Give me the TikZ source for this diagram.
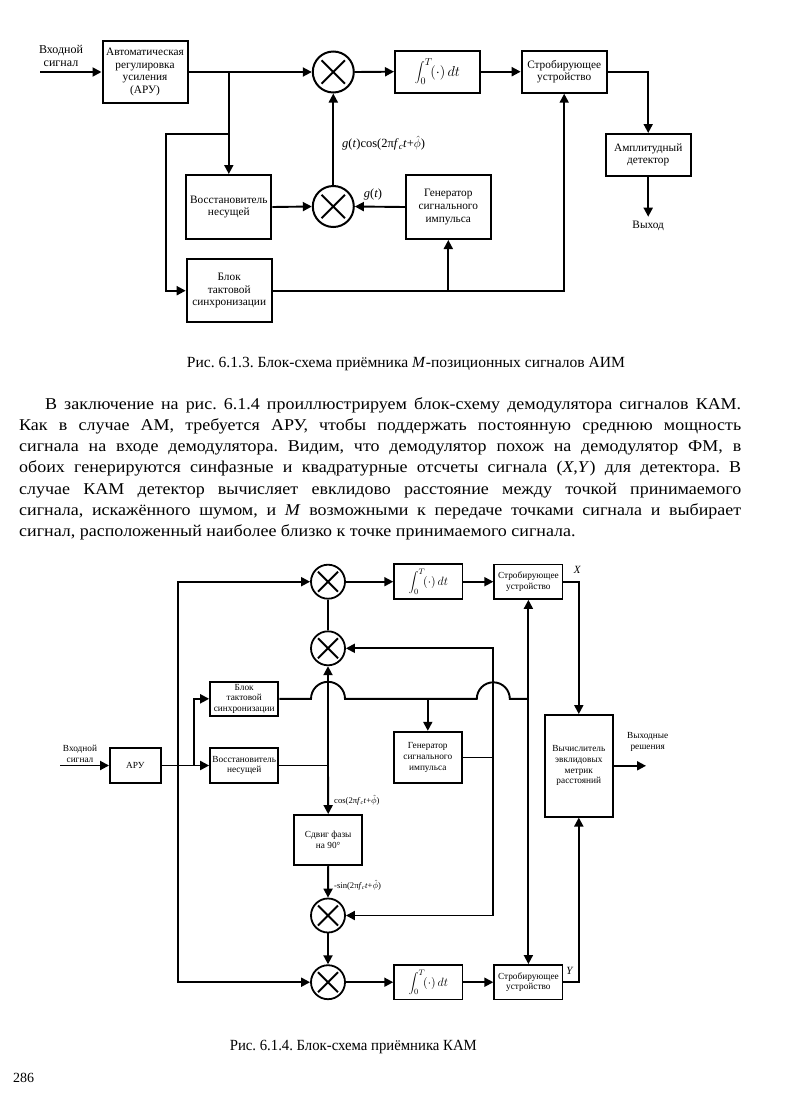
\documentclass[tikz,border=0pt]{standalone}
\usepackage{fontspec}
\setmainfont{Liberation Serif}
\newfontfamily\bodyfam[FakeStretch=1.09]{Liberation Serif}
\usepackage{graphicx}
\usetikzlibrary{arrows.meta,calc}
\frenchspacing
\newcommand{\dfa}{\fontsize{11.3}{12.6}\selectfont}
\newcommand{\dfb}{\fontsize{9.3}{10.6}\selectfont}
\newcommand{\dfc}{\fontsize{8.6}{10}\selectfont}
\newcommand{\bodyf}{\bodyfam\fontsize{16.5}{20}\selectfont}
\newcommand{\capf}{\fontsize{15.5}{18}\selectfont}
\newcommand{\phihat}{$\hat{\phi}$}
\newcommand{\intg}{$\displaystyle\int_0^T\!(\cdot)\,dt$}
\newcommand{\xmark}[2]{\draw[line width=1.9pt] ($(#1)+(-#2,-#2)$) -- ($(#1)+(#2,#2)$) ($(#1)+(-#2,#2)$) -- ($(#1)+(#2,-#2)$);}
\begin{document}
\begin{tikzpicture}[x=1pt,y=-1pt,
  wire/.style={line width=1.9pt},
  arr/.style={line width=1.9pt,-{Triangle[length=9pt,width=9pt]}},
  boxa/.style={draw,line width=2pt,minimum width=85pt,inner sep=1pt,align=center,font=\dfa},
  boxb/.style={draw,line width=1.8pt,minimum width=68.3pt,inner sep=1pt,align=center,font=\dfb},
  multa/.style={draw,circle,line width=2pt,minimum size=41pt,inner sep=0pt},
  multb/.style={draw,circle,line width=1.8pt,minimum size=34pt,inner sep=0pt},
  lbl/.style={inner sep=0pt}]
\fill[white] (0,0) rectangle (796,1100);
\useasboundingbox (0,0) rectangle (796,1100);

% ---------------- Diagram 1 ----------------
\node[boxa,minimum height=62.6pt] (aru1) at (145,72) {Автоматическая\\регулировка\\усиления\\(АРУ)};
\node[boxa,minimum height=64pt] (vos1) at (228.8,207) {Восстановитель\\несущей};
\node[boxa,minimum height=63pt] (blk1) at (229.2,290.7) {Блок\\тактовой\\синхронизации};
\node[boxa,minimum height=64pt] (gen1) at (448.3,207) {Генератор\\сигнального\\импульса};
\node[boxa,minimum height=42pt,font=\fontsize{14}{16}\selectfont] (int1) at (437.5,71.7) {\intg};
\node[boxa,minimum height=42pt] (str1) at (564.2,71.7) {Стробирующее\\устройство};
\node[boxa,minimum height=42pt] (amp1) at (648.2,155) {Амплитудный\\детектор};
\node[multa] (m1) at (333.3,72) {};
\node[multa] (m2) at (333.3,206.5) {};
\xmark{m1}{11.7}
\xmark{m2}{11.7}

\node[lbl,align=center,font=\fontsize{12}{13.3}\selectfont] (lin1) at (61,56) {Входной\\сигнал};
\coordinate (in1) at (40,72);
\draw[arr] (in1) -- (aru1.west);
\draw[arr] (aru1.east) -- (m1.west);
\coordinate (j1) at (228.8,72);
\draw[arr] (j1) -- (vos1.north);
\coordinate (j2) at (228.8,134);
\coordinate (c1) at (165.7,134);
\draw[arr] (j2) -- (c1) |- (blk1.west);
\draw[arr] (vos1.east) -- (m2.west);
\draw[arr] (gen1.west) -- (m2.east);
\node[lbl,font=\fontsize{12.5}{14}\selectfont] (lg) at (373,194) {\textit{g}(\textit{t})};
\draw[arr] (m2.north) -- (m1.south);
\node[lbl,anchor=west,font=\fontsize{12.5}{14}\selectfont] (lgc) at (342,143) {\textit{g}(\textit{t})cos(2π\textit{f}\textsubscript{\textit{c}}\textit{t}+\phihat)};
\draw[arr] (m1.east) -- (int1.west);
\draw[arr] (int1.east) -- (str1.west);
\draw[arr] (str1.east) -| (amp1.north);
\coordinate (out1) at (648.2,216.7);
\draw[arr] (amp1.south) -- (out1);
\node[lbl,font=\dfa] (lvyh) at (648.2,226) {Выход};
\draw[arr] (blk1.east) -| (str1.south);
\coordinate (j3) at (448.3,290.7);
\draw[arr] (j3) -- (gen1.south);

\node[lbl,anchor=base,font=\capf] (cap1) at (406,367) {\resizebox{438pt}{\height}{Рис. 6.1.3. Блок-схема приёмника \textit{M}-позиционных сигналов АИМ}};

% ---------------- Body text ----------------
\node[lbl,anchor=base west,font=\bodyf] (t1) at (45,409.5) {\makebox[696pt][s]{В заключение на рис. 6.1.4 проиллюстрируем блок-схему демодулятора сигналов КАМ.}};
\node[lbl,anchor=base west,font=\bodyf] (t2) at (19,430.5) {\makebox[722pt][s]{Как в случае АМ, требуется АРУ, чтобы поддержать постоянную среднюю мощность}};
\node[lbl,anchor=base west,font=\bodyf] (t3) at (19,451.5) {\makebox[722pt][s]{сигнала на входе демодулятора. Видим, что демодулятор похож на демодулятор ФМ, в}};
\node[lbl,anchor=base west,font=\bodyf] (t4) at (19,472.5) {\makebox[722pt][s]{обоих генерируются синфазные и квадратурные отсчеты сигнала (\textit{X},\textit{Y}) для детектора. В}};
\node[lbl,anchor=base west,font=\bodyf] (t5) at (19,494.5) {\makebox[722pt][s]{случае КАМ детектор вычисляет евклидово расстояние между точкой принимаемого}};
\node[lbl,anchor=base west,font=\bodyf] (t6) at (19,515.5) {\makebox[722pt][s]{сигнала, искажённого шумом, и \textit{M} возможными к передаче точками сигнала и выбирает}};
\node[lbl,anchor=base west,font=\bodyf] (t7) at (19,536.5) {сигнал, расположенный наиболее близко к точке принимаемого сигнала.};

% ---------------- Diagram 2 ----------------
\node[boxb,minimum width=50.7pt,minimum height=34.4pt] (aru2) at (135.3,765.5) {АРУ};
\node[boxb,minimum height=34.3pt] (blk2) at (244.2,698.8) {Блок\\тактовой\\синхронизации};
\node[boxb,minimum height=34.4pt] (vos2) at (244.2,765.5) {Восстановитель\\несущей};
\node[multb] (mA) at (328,581.7) {};
\node[multb] (mB) at (328,648.3) {};
\node[multb] (mC) at (328,915.5) {};
\node[multb] (mD) at (328,982.2) {};
\xmark{mA}{10}
\xmark{mB}{10}
\xmark{mC}{10}
\xmark{mD}{10}
\node[boxb,minimum height=35pt,font=\fontsize{11.5}{13}\selectfont] (intX) at (428.3,581.7) {\intg};
\node[boxb,minimum height=34.5pt] (strX) at (528.4,581.7) {Стробирующее\\устройство};
\node[boxb,minimum height=51.6pt] (gen2) at (427.8,757.5) {Генератор\\сигнального\\импульса};
\node[boxb,minimum height=50pt] (sdv) at (328.2,840) {Сдвиг фазы\\на 90°};
\node[boxb,minimum width=67.7pt,minimum height=101.7pt] (calc) at (578.8,765.8) {Вычислитель\\эвклидовых\\метрик\\расстояний};
\node[boxb,minimum height=34.5pt,font=\fontsize{11.5}{13}\selectfont] (intY) at (428.3,982.2) {\intg};
\node[boxb,minimum height=34.5pt] (strY) at (528.4,982.2) {Стробирующее\\устройство};

\node[lbl,align=center,font=\dfb] (lin2) at (80,754) {Входной\\сигнал};
\coordinate (in2) at (60,765.5);
\draw[arr] (in2) -- (aru2.west);
\draw[arr] (aru2.east) -- (vos2.west);
\coordinate (jL) at (177.7,765.5);
\draw[arr] (jL) |- (mA.west);
\draw[arr] (jL) |- (mD.west);
\coordinate (jB) at (194,765.5);
\draw[arr] (jB) |- (blk2.west);
\coordinate (jV) at (328,765.5);
\draw[wire] (vos2.east) -- (jV);
\draw[arr] (jV) -- (mB.south);
\draw[arr] (jV) -- (sdv.north);
\draw[wire] (mB.north) -- (mA.south);
\draw[arr] (mA.east) -- (intX.west);
\draw[arr] (intX.east) -- (strX.west);
\coordinate (xc) at (578.8,581.7);
\draw[arr] (strX.east) -- (xc) -- (calc.north);
\node[lbl,font=\fontsize{11}{12}\selectfont] (lX) at (577.3,570) {\textit{X}};
\node[lbl,anchor=west,font=\dfc] (lcos) at (334,800) {cos(2π\textit{f}\textsubscript{\textit{c}}\textit{t}+\phihat)};
\draw[arr] (sdv.south) -- (mC.north);
\node[lbl,anchor=west,font=\dfc] (lsin) at (334,885) {-sin(2π\textit{f}\textsubscript{\textit{c}}\textit{t}+\phihat)};
\draw[arr] (mC.south) -- (mD.north);
\draw[arr] (mD.east) -- (intY.west);
\draw[arr] (intY.east) -- (strY.west);
\coordinate (yc) at (578.8,982.2);
\draw[arr] (strY.east) -- (yc) -- (calc.south);
\node[lbl,font=\fontsize{11}{12}\selectfont] (lY) at (570,971) {\textit{Y}};
\coordinate (gx) at (493.3,757.5);
\draw[wire] (gen2.east) -- (gx);
\draw[arr] (gx) -- (gx |- mB.east) -- (mB.east);
\draw[arr] (gx) -- (gx |- mC.east) -- (mC.east);
\coordinate (sv) at (528.4,698.8);
\draw[arr] (sv) -- (strX.south);
\draw[arr] (sv) -- (strY.north);
\draw[wire] (blk2.east) -- (311,698.8) arc[start angle=180,end angle=0,radius=17pt] -- (476.8,698.8) arc[start angle=180,end angle=0,radius=16.5pt] -- (sv);
\coordinate (gj) at (427.8,698.8);
\draw[arr] (gj) -- (gen2.north);
\coordinate (out2) at (646,765.8);
\draw[arr] (calc.east) -- (out2);
\node[lbl,align=center,font=\dfb] (lout) at (647.7,742.2) {Выходные\\решения};

\node[lbl,anchor=base,font=\capf] (cap2) at (353.3,1050.7) {\resizebox{247pt}{\height}{Рис. 6.1.4. Блок-схема приёмника КАМ}};
\node[lbl,anchor=base west,font=\fontsize{14}{16}\selectfont] (pg) at (13,1082) {286};
\end{tikzpicture}
\end{document}
